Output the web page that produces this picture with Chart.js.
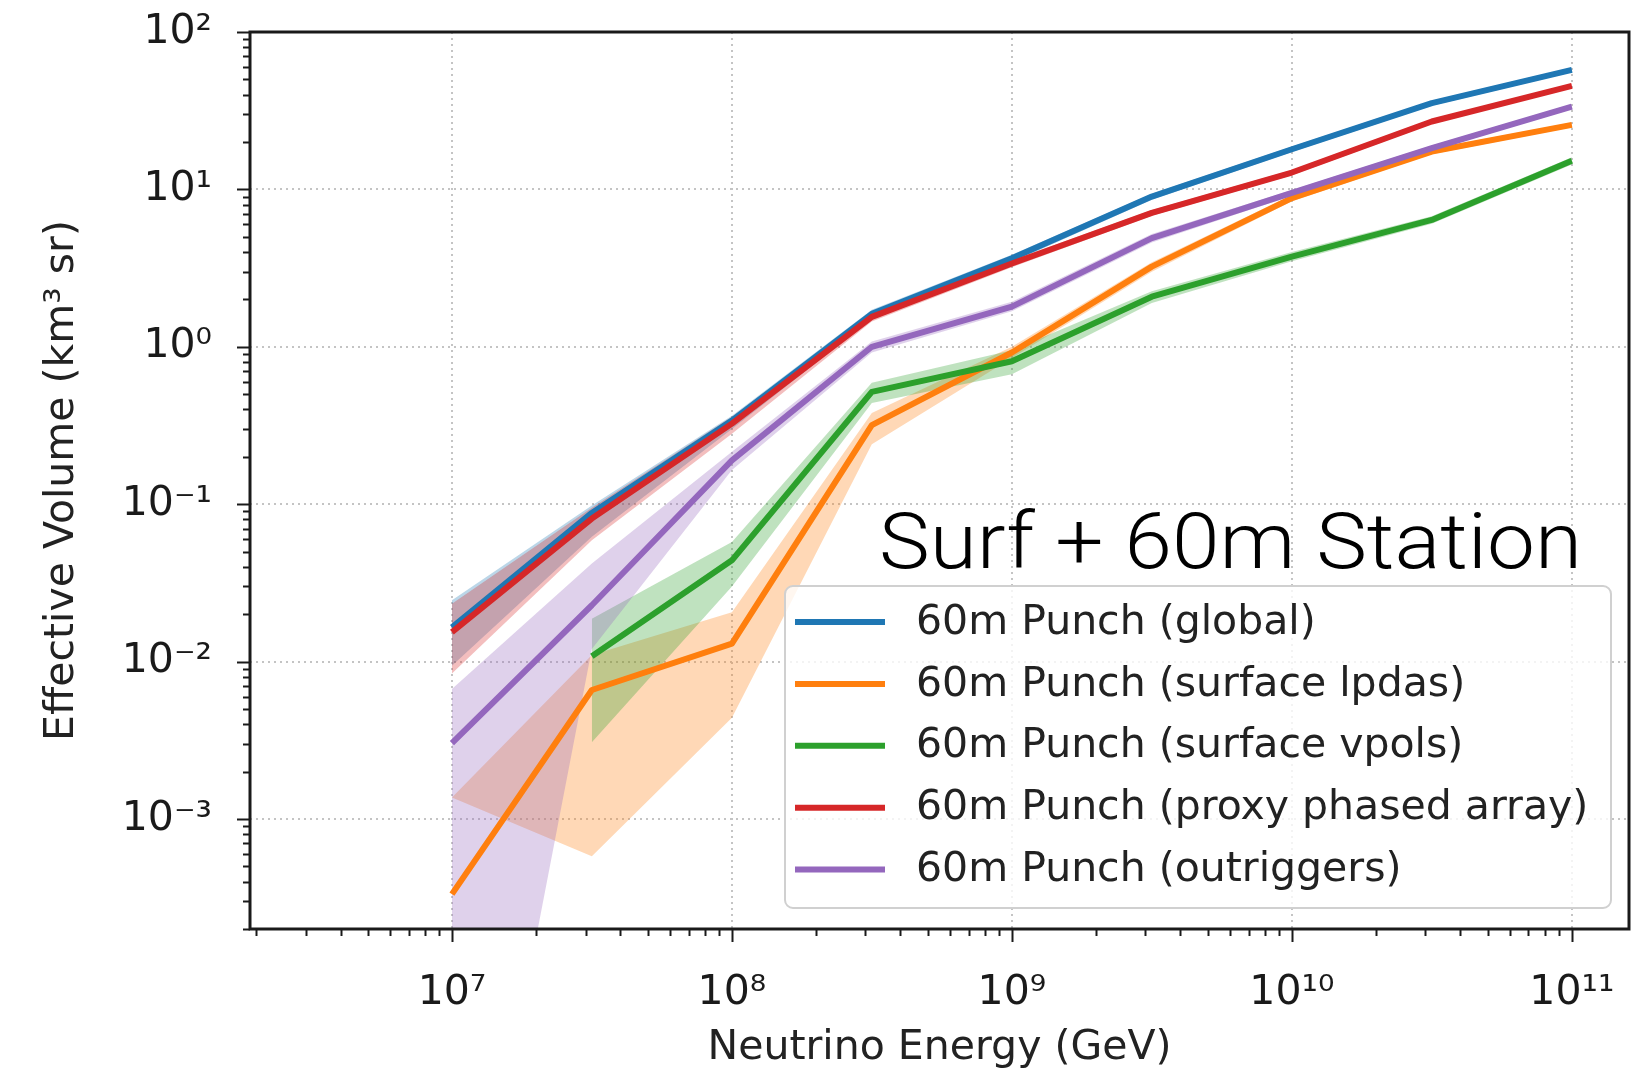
<!DOCTYPE html>
<html>
<head>
<meta charset="utf-8">
<title>Effective volume vs neutrino energy</title>
<script src="https://cdn.jsdelivr.net/npm/chart.js@4.4.1/dist/chart.umd.min.js"></script>
<style>
  html, body { margin: 0; padding: 0; background: #fff; }
  #wrap { width: 1635px; height: 1078px; position: relative; }
</style>
</head>
<body>
<div id="wrap"><canvas id="veff"></canvas></div>
<script>
// Energy bins (GeV), half-decade steps
const energies = [1e7, 3.16e7, 1e8, 3.16e8, 1e9, 3.16e9, 1e10, 3.16e10, 1e11];

const seriesLabels = [
  '60m Punch (global)',
  '60m Punch (surface lpdas)',
  '60m Punch (surface vpols)',
  '60m Punch (proxy phased array)',
  '60m Punch (outriggers)'
];
const seriesColors = ['#1f77b4', '#ff7f0e', '#2ca02c', '#d62728', '#9467bd'];

// Effective volume (km^3 sr) with lower / upper edge of the error band
const globalVeff  = [0.0165, 0.088, 0.34, 1.62, 3.65, 9.0, 18.0, 35.3, 57.5];
const globalLow   = [0.0094, 0.062, 0.30, 1.50, 3.45, 8.6, 17.3, 34.0, 55.5];
const globalHigh  = [0.0245, 0.098, 0.365, 1.72, 3.85, 9.4, 18.7, 36.6, 59.5];

const lpdaVeff    = [0.000333, 0.0066, 0.013, 0.318, 0.92, 3.23, 8.8, 17.4, 25.7];
const lpdaLow     = [0.00137, 0.00058, 0.0044, 0.24, 0.85, 3.0, 8.4, 16.7, 24.8];
const lpdaHigh    = [0.00137, 0.0110, 0.0206, 0.38, 1.0, 3.45, 9.2, 18.1, 26.6];

const vpolVeff    = [null, 0.0108, 0.044, 0.517, 0.81, 2.08, 3.74, 6.4, 15.2];
const vpolLow     = [null, 0.00307, 0.030, 0.44, 0.67, 1.9, 3.5, 6.05, 14.4];
const vpolHigh    = [null, 0.0187, 0.0575, 0.59, 0.95, 2.25, 4.0, 6.75, 16.0];

const phasedVeff  = [0.0154, 0.081, 0.325, 1.55, 3.38, 7.1, 12.8, 27.0, 45.5];
const phasedLow   = [0.0084, 0.059, 0.28, 1.45, 3.2, 6.8, 12.3, 26.0, 44.0];
const phasedHigh  = [0.0233, 0.095, 0.36, 1.65, 3.55, 7.4, 13.3, 28.0, 47.0];

const outrigVeff  = [0.00303, 0.0228, 0.19, 1.0, 1.8, 4.9, 9.5, 18.3, 33.6];
const outrigLow   = [3e-7, 0.012, 0.165, 0.92, 1.68, 4.6, 9.1, 17.6, 32.4];
const outrigHigh  = [0.0067, 0.042, 0.215, 1.08, 1.93, 5.2, 9.9, 19.0, 34.8];

// decades that get a 10^n label
const xDecades = [7, 8, 9, 10, 11];
const yDecades = [-3, -2, -1, 0, 1, 2];

const central = [globalVeff, lpdaVeff, vpolVeff, phasedVeff, outrigVeff];
const lows    = [globalLow, lpdaLow, vpolLow, phasedLow, outrigLow];
const highs   = [globalHigh, lpdaHigh, vpolHigh, phasedHigh, outrigHigh];

const SUP = {'0':'⁰','1':'¹','2':'²','3':'³','4':'⁴','5':'⁵','6':'⁶','7':'⁷','8':'⁸','9':'⁹','-':'⁻'};

function points(vals) {
  return energies.map((e, i) => ({x: e, y: vals[i]})).filter(p => p.y !== null);
}

function withAlpha(hex, a) {
  const n = parseInt(hex.slice(1), 16);
  return `rgba(${(n >> 16) & 255}, ${(n >> 8) & 255}, ${n & 255}, ${a})`;
}

function decadeLabel(v, decades) {
  const e = Math.round(Math.log10(v));
  if (Math.abs(Math.log10(v) - e) > 1e-6 || !decades.includes(e)) return '';
  return '10' + String(e).split('').map(c => SUP[c]).join('');
}

// 0 = not a nice tick, 1 = minor (2..9 x 10^n), 2 = decade
function tickKind(v) {
  const e = Math.floor(Math.log10(v) + 1e-9);
  const m = v / Math.pow(10, e);
  if (Math.abs(m - Math.round(m)) > 1e-6) return 0;
  return Math.round(m) === 1 ? 2 : 1;
}

const datasets = [];
// error bands: a transparent lower edge plus an upper edge filled down to it
central.forEach((_, k) => {
  const lowIdx = datasets.length;
  datasets.push({
    data: points(lows[k]), borderColor: 'transparent', borderWidth: 0,
    pointRadius: 0, fill: false, order: 20 - k
  });
  datasets.push({
    data: points(highs[k]), borderColor: 'transparent', borderWidth: 0,
    pointRadius: 0, backgroundColor: withAlpha(seriesColors[k], 0.3),
    fill: lowIdx, order: 20 - k
  });
});
central.forEach((vals, k) => {
  datasets.push({
    label: seriesLabels[k], data: points(vals),
    borderColor: seriesColors[k], borderWidth: 6,
    borderJoinStyle: 'round', pointRadius: 0, fill: false, order: 5 - k
  });
});

const tickFont = {family: '"DejaVu Sans", sans-serif', size: 41};
const titleFont = {family: '"DejaVu Sans", sans-serif', size: 41};

// the axes keep a fixed frame; tick label overhang must not shrink it
function pinScale(size) {
  return s => {
    if (s.isHorizontal()) s.height = size; else s.width = size;
    s.paddingTop = 0; s.paddingBottom = 0; s.paddingLeft = 0; s.paddingRight = 0;
  };
}

// tick marks (long at decades, short in between) and the full axes box
const axisFrame = {
  id: 'axisFrame',
  afterDraw(chart) {
    const {ctx, chartArea: a, scales} = chart;
    ctx.save();
    ctx.strokeStyle = '#1a1a1a';
    ctx.lineWidth = 2;
    scales.x.ticks.forEach(t => {
      const kind = tickKind(t.value);
      if (!kind) return;
      const px = Math.round(scales.x.getPixelForValue(t.value)) + 0.5;
      ctx.beginPath();
      ctx.moveTo(px, a.bottom);
      ctx.lineTo(px, a.bottom + (kind === 2 ? 13 : 7));
      ctx.stroke();
    });
    scales.y.ticks.forEach(t => {
      const kind = tickKind(t.value);
      if (!kind) return;
      const py = Math.round(scales.y.getPixelForValue(t.value)) + 0.5;
      ctx.beginPath();
      ctx.moveTo(a.left, py);
      ctx.lineTo(a.left - (kind === 2 ? 13 : 7), py);
      ctx.stroke();
    });
    ctx.lineWidth = 3;
    ctx.strokeRect(a.left, a.top, a.right - a.left, a.bottom - a.top);
    ctx.restore();
  }
};

const boxLegend = {
  id: 'boxLegend',
  afterDraw(chart) {
    const ctx = chart.ctx;
    const x0 = 785, y0 = 586, w = 826, h = 322;
    ctx.save();
    ctx.beginPath();
    ctx.roundRect(x0, y0, w, h, 8);
    ctx.fillStyle = 'rgba(255, 255, 255, 0.8)';
    ctx.fill();
    ctx.strokeStyle = '#d0d0d0';
    ctx.lineWidth = 2;
    ctx.stroke();
    ctx.font = `${titleFont.size}px ${titleFont.family}`;
    ctx.textBaseline = 'middle';
    seriesLabels.forEach((label, k) => {
      const y = y0 + 36 + k * 61.9;
      ctx.strokeStyle = seriesColors[k];
      ctx.lineWidth = 6;
      ctx.beginPath();
      ctx.moveTo(x0 + 10, y);
      ctx.lineTo(x0 + 100, y);
      ctx.stroke();
      ctx.fillStyle = '#222';
      ctx.fillText(label, x0 + 131, y + 1);
    });
    ctx.restore();
  }
};

// station caption, stretched to its 703 px run
const stationNote = {
  id: 'stationNote',
  afterDraw(chart) {
    const ctx = chart.ctx;
    const text = 'Surf + 60m Station';
    ctx.save();
    ctx.font = '300 78px Roboto, "Liberation Sans", sans-serif';
    ctx.fillStyle = '#000';
    ctx.textBaseline = 'alphabetic';
    const sx = 703 / ctx.measureText(text).width;
    ctx.translate(879, 568);
    ctx.scale(sx, 1);
    ctx.fillText(text, 0, 0);
    ctx.restore();
  }
};

const gridColor = ctx => (ctx.tick && ctx.tick.major) ? '#c4c4c4' : 'rgba(0,0,0,0)';

new Chart(document.getElementById('veff'), {
  type: 'line',
  data: { datasets: datasets },
  options: {
    responsive: true,
    maintainAspectRatio: false,
    animation: false,
    events: [],
    layout: { padding: { top: 32, right: 6, left: 0, bottom: 0 } },
    plugins: {
      legend: { display: false },
      tooltip: { enabled: false },
      filler: { drawTime: 'beforeDatasetsDraw' }
    },
    scales: {
      x: {
        type: 'logarithmic',
        min: 1.9e6,
        max: 1.6e11,
        afterFit: pinScale(149),
        grid: { color: gridColor, lineWidth: 2, drawTicks: false },
        border: { display: false, dash: [2, 4] },
        ticks: {
          autoSkip: false, maxRotation: 0, minRotation: 0, padding: 40,
          color: '#1a1a1a', font: tickFont,
          callback: v => decadeLabel(v, xDecades)
        },
        title: {
          display: true, text: 'Neutrino Energy (GeV)', color: '#222',
          font: titleFont, padding: { top: 0, bottom: 5 }
        }
      },
      y: {
        type: 'logarithmic',
        min: 2e-4,
        max: 100,
        afterFit: pinScale(250),
        grid: { color: gridColor, lineWidth: 2, drawTicks: false },
        border: { display: false, dash: [2, 4] },
        ticks: {
          autoSkip: false, padding: 38,
          color: '#1a1a1a', font: tickFont,
          callback: v => decadeLabel(v, yDecades)
        },
        title: {
          display: true, text: 'Effective Volume (km³ sr)', color: '#222',
          font: titleFont, padding: { top: 38, bottom: 0 }
        }
      }
    }
  },
  plugins: [axisFrame, boxLegend, stationNote]
});
</script>
</body>
</html>
